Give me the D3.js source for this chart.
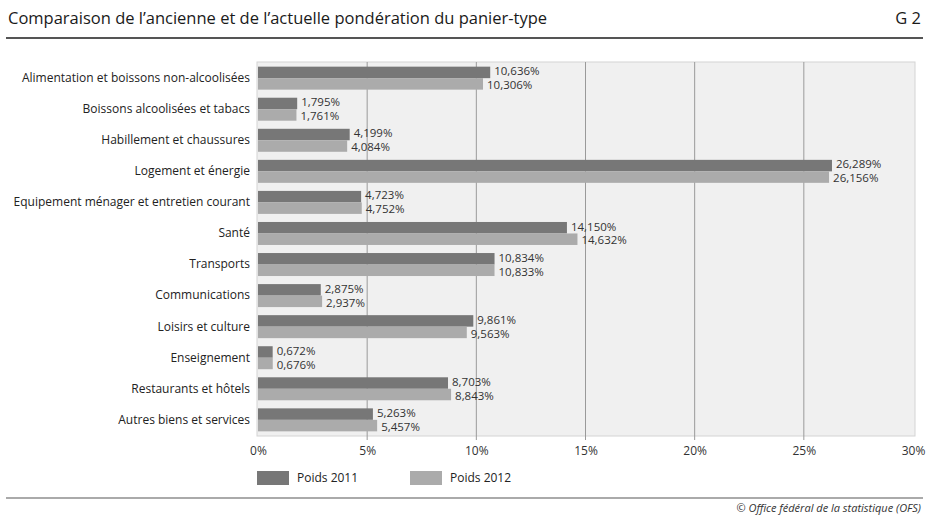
<!DOCTYPE html>
<html>
<head>
    <meta charset="utf-8">
    <title>Pondération du panier-type</title>
    <script src="https://d3js.org/d3.v7.min.js"></script>
    <style>
        body { margin: 0; background: #fff; }
        text { font-family: "Open Sans", "DejaVu Sans", sans-serif; }
    </style>
</head>
<body>
    <script>
        // categories and weights (%)
        var categories = [
            "Alimentation et boissons non-alcoolisées",
            "Boissons alcoolisées et tabacs",
            "Habillement et chaussures",
            "Logement et énergie",
            "Equipement ménager et entretien courant",
            "Santé",
            "Transports",
            "Communications",
            "Loisirs et culture",
            "Enseignement",
            "Restaurants et hôtels",
            "Autres biens et services"
        ];
        var poids2011 = [10.636, 1.795, 4.199, 26.289, 4.723, 14.150, 10.834, 2.875, 9.861, 0.672, 8.703, 5.263];
        var poids2012 = [10.306, 1.761, 4.084, 26.156, 4.752, 14.632, 10.833, 2.937, 9.563, 0.676, 8.843, 5.457];
        var seriesNames = ["Poids 2011", "Poids 2012"];
        var seriesColors = ["#777777", "#ababab"];
        var tickValues = [0, 5, 10, 15, 20, 25, 30];

        var W = 929, H = 518;
        var plotLeft = 257, plotRight = 915, plotTop = 62, plotBottom = 436;

        var svg = d3.select("body").append("svg")
            .attr("width", W)
            .attr("height", H);

        // header
        svg.append("text")
            .attr("x", 8).attr("y", 24)
            .style("font-size", "16.5px")
            .style("fill", "#1a1a1a")
            .text("Comparaison de l\u2019ancienne et de l\u2019actuelle pondération du panier-type");
        svg.append("text")
            .attr("x", 921).attr("y", 24)
            .attr("text-anchor", "end")
            .style("font-size", "16.5px")
            .style("fill", "#1a1a1a")
            .text("G 2");
        svg.append("line")
            .attr("x1", 6).attr("x2", 923)
            .attr("y1", 38).attr("y2", 38)
            .style("stroke", "#555").style("stroke-width", 2);

        var x = d3.scaleLinear().domain([0, 30]).range([plotLeft + 1, 913]);
        var y = d3.scaleBand().domain(categories).range([plotTop, plotBottom])
            .paddingInner(0.26).paddingOuter(0.15);
        var barH = y.bandwidth() / 2;

        // plot background
        svg.append("rect")
            .attr("x", plotLeft).attr("y", plotTop)
            .attr("width", plotRight - plotLeft).attr("height", plotBottom - plotTop)
            .style("fill", "#f0f0f0")
            .style("stroke", "#d4d4d4");

        // grid
        svg.selectAll(".grid")
            .data(tickValues.slice(1, -1))
            .enter().append("line")
            .attr("x1", d => x(d)).attr("x2", d => x(d))
            .attr("y1", plotTop).attr("y2", plotBottom + 4)
            .style("stroke", "#9a9a9a").style("stroke-width", 1);

        // x axis labels
        var xAxis = d3.axisBottom(x).tickValues(tickValues)
            .tickFormat(d => d + "%").tickSize(0).tickPadding(10);
        var ax = svg.append("g")
            .attr("transform", "translate(0," + plotBottom + ")")
            .call(xAxis);
        ax.select(".domain").remove();
        ax.selectAll("text")
            .style("font-size", "12px")
            .style("fill", "#333")
            .style("font-family", "'Open Sans', sans-serif");

        // category labels
        var yAxis = d3.axisLeft(y).tickSize(0).tickPadding(7);
        var ay = svg.append("g")
            .attr("transform", "translate(" + plotLeft + ",0)")
            .call(yAxis);
        ay.select(".domain").remove();
        ay.selectAll("text")
            .style("font-size", "12px")
            .style("fill", "#222")
            .style("font-family", "'Open Sans', sans-serif");

        var series = [poids2011, poids2012];
        var fmt = v => v.toFixed(3).replace(".", ",") + "%";

        series.forEach(function (vals, s) {
            var rows = categories.map((c, i) => ({ cat: c, v: vals[i] }));
            svg.selectAll(".bar" + s)
                .data(rows)
                .enter().append("rect")
                .attr("x", x(0))
                .attr("y", d => y(d.cat) + s * barH)
                .attr("width", d => x(d.v) - x(0))
                .attr("height", barH)
                .style("fill", seriesColors[s]);

            svg.selectAll(".lab" + s)
                .data(rows)
                .enter().append("text")
                .attr("x", d => x(d.v) + 4)
                .attr("y", d => y(d.cat) + s * barH + barH / 2 + (s ? 1.2 : -1.2))
                .attr("dy", "0.35em")
                .style("font-size", "11.5px")
                .style("fill", "#333")
                .text(d => fmt(d.v));
        });

        // legend
        var leg = svg.selectAll(".leg")
            .data(seriesNames)
            .enter().append("g")
            .attr("transform", (d, i) => "translate(" + (257 + i * 153) + ",471)");
        leg.append("rect")
            .attr("width", 32).attr("height", 14)
            .style("fill", (d, i) => seriesColors[i]);
        leg.append("text")
            .attr("x", 40).attr("y", 7).attr("dy", "0.35em")
            .style("font-size", "12px")
            .style("fill", "#222")
            .text(d => d);

        // footer
        svg.append("line")
            .attr("x1", 6).attr("x2", 923)
            .attr("y1", 498).attr("y2", 498)
            .style("stroke", "#aaa").style("stroke-width", 2);
        svg.append("text")
            .attr("x", 921).attr("y", 512)
            .attr("text-anchor", "end")
            .style("font-size", "11px")
            .style("font-style", "italic")
            .style("fill", "#333")
            .text("© Office fédéral de la statistique (OFS)");
    </script>
</body>
</html>
